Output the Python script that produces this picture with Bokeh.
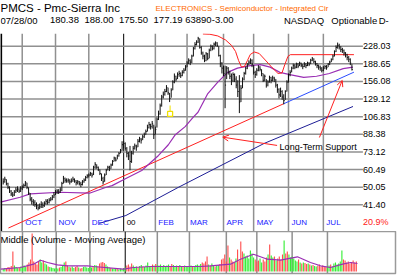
from bokeh.plotting import figure
from bokeh.layouts import column
from bokeh.models import Range1d, Span, Arrow, OpenHead
from bokeh.core.properties import value
from bokeh.embed import file_html
from bokeh.resources import INLINE

# ---------------- data (trading-day index, Sep 15 1999 = 0) ----------------
high = [55, 56, 54.5, 52.5, 50.5, 48.5, 47.5, 48.5, 50, 50.5, 49.5, 50.5,
        51, 52, 53.5, 52.5, 50, 47, 45, 44, 43.5, 42.5, 41.5, 42, 43, 42.5, 43, 44, 44, 44.5, 45, 46, 47.5,
        48.5, 49, 49, 50, 53, 56.5, 55.5, 55, 55, 54.5, 55, 56, 55, 54, 54, 53.5, 53, 54, 55, 56.5, 57.5,
        58, 59, 58.5, 63, 65.5, 64, 62.5, 60.5, 58, 56, 58, 61, 63, 63, 64.5, 67, 69.5, 69, 71, 73, 75.5, 82,
        82, 81, 77, 73, 78, 74, 78, 80, 79, 84, 86, 85, 88, 90, 93, 98, 101, 99, 102, 98,
        96, 106, 114, 123, 135, 140, 144, 150, 146, 138, 145, 158, 170, 166, 172, 175, 172, 176, 180, 186,
        194, 200, 198, 208, 226, 238, 243, 252, 248, 228, 215, 208, 214, 212, 222, 232, 230, 237, 240, 238, 228, 208, 192,
        185, 185, 184, 182, 175, 170, 172, 170, 165, 158, 167, 150, 163, 173, 183, 190, 196, 200, 198,
        186, 175, 180, 186, 184, 178, 170, 168, 160, 158, 166, 164, 166, 164, 160, 152, 145, 146, 142, 136, 142, 158,
        170, 176, 183, 189, 188, 191, 190, 193, 191, 188, 192, 190, 193, 192, 199, 203, 200, 195, 190, 187, 185, 182,
        184, 186, 186, 190, 195, 200, 208, 218, 230, 237, 234, 228, 224, 220, 214, 210, 205, 200, 188]
low = [51.5, 52.5, 51, 49, 47, 45.5, 45, 45.5, 47, 47.5, 47, 47.5,
       48.5, 49.5, 50.5, 49, 46, 43, 41.5, 41, 40.5, 39.5, 39, 39.5, 40, 40, 40.5, 41.5, 41.5, 42, 43, 43.5, 44.5,
       46, 46.5, 46.5, 47, 48, 52, 52.5, 52.5, 52.5, 51.5, 52.5, 53, 52.5, 51, 51.5, 51, 50, 51, 52.5, 53.5, 55,
       55.5, 56.5, 55.5, 57, 61, 61, 59.5, 57, 53.5, 51.5, 53, 57, 60, 59.5, 61, 63, 66, 66, 67.5, 69.5, 72, 74,
       76, 74, 69, 67, 60, 65, 71, 75, 74, 77, 81, 80, 83, 85, 88, 91, 94, 93, 94, 84,
       88, 95, 103, 109, 119, 130, 134, 139, 135, 125, 131, 142, 153, 156, 160, 164, 162, 165, 170, 175,
       182, 188, 186, 190, 204, 220, 230, 236, 222, 208, 198, 192, 194, 196, 200, 216, 218, 220, 228, 226, 204, 182, 170,
       165, 117, 160, 168, 160, 150, 155, 155, 145, 132, 111, 125, 145, 158, 168, 178, 186, 188, 182,
       168, 162, 166, 174, 174, 165, 155, 156, 146, 148, 154, 153, 156, 155, 146, 138, 130, 132, 128, 122, 128, 140,
       154, 165, 172, 178, 178, 180, 180, 184, 182, 178, 182, 180, 184, 184, 188, 194, 190, 185, 180, 177, 175, 172,
       174, 178, 177, 182, 186, 192, 196, 204, 214, 222, 220, 214, 212, 206, 202, 196, 192, 186, 175.5]
close = [53, 54.5, 52, 50, 48, 46.5, 46, 47.5, 48.5, 49, 48, 49.5,
         50, 51, 52.5, 50, 47, 44, 43, 42.5, 41.5, 41, 40, 40.5, 41.5, 41, 42, 43, 42.5, 43.5, 44, 45, 46,
         47.5, 48, 47.5, 48.5, 52, 55, 54, 53.5, 54, 53, 53.5, 54.5, 53.5, 52.5, 53, 52, 51.5, 53, 54, 55.5, 56.5,
         57, 58, 57, 62, 64, 62, 60.5, 58, 55, 53, 57, 60, 62, 61, 63.5, 66, 68.5, 67, 70, 72, 74, 79,
         80, 76, 72, 70, 66, 72, 76, 78, 77, 82, 84, 83, 86, 88, 91, 95, 98, 96, 99, 88,
         93, 104, 110, 120, 132, 136, 140, 146, 138, 130, 142, 155, 165, 160, 168, 170, 166, 172, 176, 182,
         190, 195, 192, 205, 222, 232, 238, 248, 225, 212, 205, 195, 210, 200, 218, 228, 222, 233, 236, 230, 206, 190, 180,
         170, 150, 180, 172, 165, 158, 168, 160, 150, 140, 125, 145, 160, 170, 180, 186, 192, 196, 188,
         172, 168, 176, 182, 178, 170, 158, 165, 150, 155, 163, 158, 162, 160, 150, 143, 135, 140, 132, 127, 140, 155,
         168, 172, 180, 185, 182, 188, 184, 190, 186, 183, 188, 185, 190, 188, 196, 199, 193, 189, 185, 182, 180, 176,
         180, 183, 181, 188, 192, 197, 205, 215, 225, 230, 226, 220, 218, 212, 208, 202, 198, 190, 177.19]
volume = [500, 700, 600, 900, 800, 1100, 4000, 1200, 900, 700, 800, 1000,
          900, 1200, 1000, 1400, 1800, 2400, 7600, 2000, 1600, 1400, 2000, 2400, 1800, 2200, 1600, 1400, 1000, 900, 800, 700, 600,
          700, 600, 800, 900, 1100, 1800, 2000, 1200, 900, 800, 1000, 700, 900, 1100, 800, 600, 700, 900, 1000, 800, 700,
          900, 800, 1000, 1300, 1200, 1000, 1600, 1800, 1900, 1700, 1400, 1000, 800, 700, 600, 500, 700, 500, 400, 600, 500, 700,
          800, 1200, 1400, 1000, 1600, 1200, 900, 1000, 800, 1100, 1300, 1000, 900, 1200, 1800, 1100, 1000, 1400, 1200, 1500,
          1300, 1200, 1400, 1100, 1300, 1000, 1200, 1400, 1100, 1500, 1300, 1100, 1200, 1000, 1300, 1100, 900, 1200, 1000, 1100,
          1000, 1200, 900, 1100, 1300, 1400, 1200, 1500, 1800, 1600, 2000, 3000, 1400, 1200, 1600, 1100, 1000, 1200, 1300, 1500, 2400, 2600, 3400,
          2000, 5200, 2800, 2400, 2000, 1800, 2600, 4400, 2200, 6000, 4000, 3600, 3000, 3200, 2600, 4200, 3600, 2800, 2400,
          2000, 2200, 2600, 1800, 2400, 2000, 2800, 3400, 5400, 3200, 2800, 3000, 2200, 2600, 3000, 2400, 3400, 6200, 3600, 4000, 3400, 2800,
          3000, 2600, 2200, 2000, 2400, 1800, 1600, 1800, 1700, 1500, 1600, 1400, 1200, 1300, 1100, 1000, 1200, 1400, 1000, 1200, 1100, 900,
          1000, 1200, 1400, 1000, 1600, 1800, 1400, 1600, 2000, 4200, 2400, 2200, 1800, 2000, 1600, 1900, 2200, 1800, 2000]

# purple price moving average
ma_idx = [-1.7, 10.7, 17, 35.7, 54.4, 65, 68.7, 77.4, 87.4, 98, 104.2, 108.6, 114.8, 119.8, 122.9,
          129.1, 135.4, 141.6, 147.8, 155.9, 162.2, 168.4, 174.6, 180.8, 189.6, 197.7, 205.8, 214.5, 220.7]
ma_val = [42.6, 44.9, 46.6, 47.4, 46.9, 50.0, 50.9, 54.9, 59.9, 70.4, 79, 88, 96, 106, 112,
          137, 155, 172, 180, 185, 187, 182, 172, 168, 163, 165, 170, 179, 182]
# navy long moving average
navy_idx = [60.6, 77.4, 110.4, 164.6, 220.7]
navy_val = [33.9, 36.9, 49.9, 80.1, 119.2]
# long-term support trendline (red part, then blue extension)
trend_idx = [3.28, 176.9]
trend_val = [32.25, 122.7]
ext_idx = [176.9, 221.3]
ext_val = [122.7, 172.4]
# red hand-drawn curve / resistance
arc_idx = [126.0, 130.4, 135.4, 140.3, 144.1, 146.6, 148.5, 150.3, 152.2, 154.1, 155.9, 158.4, 161.5,
           165.3, 169.6, 173.4, 175.9, 177.7, 179.6, 181.2, 221.3]
arc_val = [260.0, 259.2, 254.5, 243.8, 229.8, 215.4, 195.5, 182.3, 183.3, 195.5, 208.6, 214.2, 210.8,
           196.6, 181.3, 170.0, 170.9, 187.3, 204.1, 208.1, 208.1]
# volume moving average
vma_idx = [-1.7, 10.8, 18.9, 23.2, 27.6, 33.8, 40, 52.5, 56.2, 74.9, 81.2, 91.8, 122.9, 129.1, 141.6,
           147.8, 155.9, 164.6, 172.8, 183.3, 191.4, 197.7, 203.9, 211.4, 216.4, 220.7]
vma_val = [460, 800, 1460, 2260, 1800, 1340, 1140, 1140, 1000, 460, 800, 1000, 1000, 1140, 1460,
           2460, 3460, 2460, 2260, 2940, 1800, 1140, 800, 1460, 1800, 1600]

month_idx = [12, 33, 54, 76, 96, 116, 139, 158, 180, 202]
month_lbl = ["OCT", "NOV", "DEC", "00", "FEB", "MAR", "APR", "MAY", "JUN", "JUL"]
year_idx = 76
ytick_vals = [228.03, 188.65, 156.08, 129.12, 106.83, 88.38, 73.12, 60.49, 50.05, 41.40]
ytick_lbl = ["228.03", "188.65", "156.08", "129.12", "106.83", "88.38", "73.12", "60.49", "50.05", "41.40"]
pct_lbl = "20.9%"

event_idx = [105.3]
event_top = [120.5]
event_bot = [113.0]
event_val = [110.0]

header_tokens = ["07/28/00", "180.38", "188.00", "175.50", "177.19", "63890", "-3.00",
                 "NASDAQ", "Optionable", "D-"]
header_x = [0, 50, 85, 120, 155, 187, 214, 287, 335, 383]

assert len(high) == len(low) == len(close) == len(volume) == 221

# ---------------- styling ----------------
SANS = "Liberation Sans"
GRID = "#909090"
PXD = 1.605                      # pixels per trading day
X0 = -1.707
X_FRAME = X0 + 366 / PXD         # right end of the chart area
X_LBL = X0 + 367 / PXD           # where the price labels start
Y0, Y1 = 31.07, 261.3
idx = list(range(len(close)))

# ---------------- header ----------------
hdr = figure(width=400, height=33, x_range=Range1d(0, 400), y_range=Range1d(33, 0),
             x_axis_location=None, y_axis_location=None, output_backend="svg",
             toolbar_location=None, min_border=0, outline_line_color=None)
hdr.grid.visible = False
hdr.text(x=[0], y=[7.5], text=["PMCS - Pmc-Sierra Inc"], text_font=value(SANS),
         text_font_size="11.5px", text_baseline="middle", text_color="black")
hdr.text(x=[157], y=[7.5], text=["ELECTRONICS - Semiconductor - Integrated Cir"],
         text_font=value(SANS), text_font_size="8px", text_baseline="middle", text_color="#ff6a00")
hdr.text(x=header_x, y=[19.5] * len(header_x), text=header_tokens, text_font=value(SANS),
         text_font_size="9.5px", text_baseline="middle", text_color="black")

# ---------------- price panel ----------------
p = figure(width=400, height=198, x_range=Range1d(X0, X0 + 400 / PXD), y_range=Range1d(Y0, Y1),
           y_axis_type="log", y_axis_location=None, x_axis_location=None,
           output_backend="svg", toolbar_location=None, min_border=0, outline_line_color=None)
p.grid.visible = False

p.segment(x0=[X0] * len(ytick_vals), y0=ytick_vals, x1=[X_LBL] * len(ytick_vals), y1=ytick_vals,
          line_color=GRID, line_width=1.5)
for m in month_idx:
    if m == year_idx:
        p.add_layout(Span(location=m, dimension="height", line_color="black", line_width=1, level="underlay"))
    else:
        p.add_layout(Span(location=m, dimension="height", line_color=GRID, line_width=1.5, level="underlay"))
p.add_layout(Span(location=X0 + 0.4, dimension="height", line_color="black", line_width=2))

p.line(navy_idx, navy_val, line_color="#1e1e96", line_width=1)
p.line(trend_idx, trend_val, line_color="#ff2020", line_width=1)
p.line(ext_idx, ext_val, line_color="#2a4cff", line_width=1)
p.line(ma_idx, ma_val, line_color="#9a2fb4", line_width=1.2)
p.line(arc_idx, arc_val, line_color="#ff2020", line_width=1)

p.segment(x0=idx, y0=low, x1=idx, y1=high, line_color="#111111", line_width=1)
p.segment(x0=idx, y0=close, x1=[i + 0.6 for i in idx], y1=close, line_color="#111111", line_width=1)

p.segment(x0=event_idx, y0=event_top, x1=event_idx, y1=event_bot, line_color="#f0e000", line_width=1)
p.scatter(event_idx, event_val, marker="square", size=5, fill_color=None, line_color="#f0e000", line_width=1.3)

# price labels on the right
p.text(x=[X_LBL] * len(ytick_vals), y=ytick_vals, text=ytick_lbl, text_font=value(SANS),
       text_font_size="9px", text_baseline="middle", text_color="black")

month_col = ["black" if m == year_idx else "#1a1aff" for m in month_idx]
LBL_Y = 34.23
p.text(x=[m + 1.9 for m in month_idx], y=[LBL_Y] * len(month_idx), text=month_lbl,
       text_color=month_col, text_font=value(SANS), text_font_size="8px", text_baseline="middle")
p.text(x=[X_LBL], y=[LBL_Y], text=[pct_lbl], text_color="#ff2020", text_font=value(SANS),
       text_font_size="9px", text_baseline="middle")

p.text(x=[174.4], y=[76.9], text=["Long-Term Support"], text_font=value(SANS), text_font_size="9px",
       text_baseline="middle", text_color="black")
p.add_layout(Arrow(end=OpenHead(size=6, line_color="#ff2020", line_width=1),
                   x_start=172.8, y_start=78.4, x_end=138.5, y_end=85.7, line_color="#ff2020", line_width=1))
p.add_layout(Arrow(end=OpenHead(size=6, line_color="#ff2020", line_width=1),
                   x_start=199.5, y_start=85.4, x_end=213.9, y_end=157.7, line_color="#ff2020", line_width=1))

# ---------------- volume panel ----------------
vol = figure(width=400, height=46, x_range=Range1d(X0, X0 + 395 / PXD), y_range=Range1d(-400, 8000),
             x_axis_location=None, y_axis_location=None, output_backend="svg", toolbar_location=None,
             min_border_left=0, min_border_right=5, min_border_top=0, min_border_bottom=4,
             outline_line_color="#9a9a9a", outline_line_width=1.5)
vol.grid.visible = False
for m in month_idx:
    vol.add_layout(Span(location=m, dimension="height", line_color="black" if m == year_idx else GRID,
                        line_width=1 if m == year_idx else 1.5, level="underlay"))
vcol = ["#33ee33"] + ["#33ee33" if close[i] >= close[i - 1] else "#ff4f4f" for i in range(1, len(close))]
vol.vbar(x=idx, top=volume, bottom=0, width=0.7, fill_color=vcol, line_color=None)
vol.line(vma_idx, vma_val, line_color="#9a2fb4", line_width=1.2)
vol.text(x=[X0], y=[6400], text=["Middle (Volume - Moving Average)"], text_font=value(SANS),
         text_font_size="9.5px", text_baseline="middle", text_color="black")

layout = column(hdr, p, vol)
open("out.html", "w").write(file_html(layout, INLINE))
